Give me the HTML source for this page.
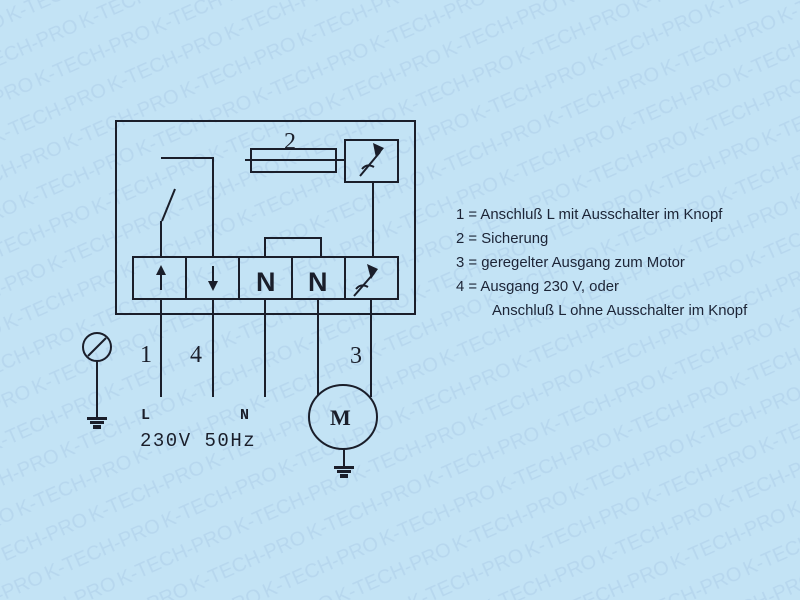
<!DOCTYPE html>
<html><head><meta charset="utf-8"><style>
html,body{margin:0;padding:0;background:#c3e3f5;width:800px;height:600px;overflow:hidden;}
svg{display:block;overflow:hidden}
</style></head><body>
<svg width="800" height="600" viewBox="0 0 800 600" xmlns="http://www.w3.org/2000/svg">
<defs>
<pattern id="wm" width="128" height="70" patternUnits="userSpaceOnUse" patternTransform="rotate(-24)">
<g fill="#b7d7ee" font-family="Liberation Sans, sans-serif" font-size="20">
<text x="0" y="25">K-TECH-PRO</text>
<text x="-64" y="60">K-TECH-PRO</text>
<text x="64" y="60">K-TECH-PRO</text>
</g>
</pattern>
</defs>
<rect width="800" height="600" fill="#c3e3f5"/>
<rect width="800" height="600" fill="url(#wm)"/>

<g stroke="#1a1e2a" stroke-width="2" fill="none">
<rect x="116" y="121" width="299" height="193"/>
<polyline points="161,257 161,221"/>
<line x1="162" y1="221" x2="175" y2="189"/>
<polyline points="161,158 213,158 213,257"/>
<rect x="251" y="149" width="85" height="23"/>
<line x1="245" y1="160" x2="345" y2="160"/>
<rect x="345" y="140" width="53" height="42"/>
<line x1="373" y1="182" x2="373" y2="257"/>
<polyline points="265,257 265,238 321,238 321,257"/>
<rect x="133" y="257" width="265" height="42"/>
<line x1="186" y1="257" x2="186" y2="299"/>
<line x1="239" y1="257" x2="239" y2="299"/>
<line x1="292" y1="257" x2="292" y2="299"/>
<line x1="345" y1="257" x2="345" y2="299"/>
<line x1="161" y1="299" x2="161" y2="397"/>
<line x1="213" y1="299" x2="213" y2="397"/>
<line x1="265" y1="299" x2="265" y2="397"/>
<line x1="318" y1="299" x2="318" y2="395"/>
<line x1="371" y1="299" x2="371" y2="397"/>
<ellipse cx="343" cy="417" rx="34" ry="32"/>
<line x1="344" y1="449" x2="344" y2="466"/>
<circle cx="97" cy="347" r="14"/>
<line x1="88" y1="356" x2="106" y2="338"/>
<line x1="97" y1="361" x2="97" y2="417"/>
<line x1="360" y1="176" x2="380" y2="152"/>
<path d="M362,169 q5,-6 12,-2" />
<line x1="354" y1="296" x2="374" y2="273"/>
<path d="M356,289 q5,-6 12,-2"/>
<line x1="161" y1="290" x2="161" y2="272"/>
<line x1="213" y1="266" x2="213" y2="284"/>
</g>
<g fill="#1a1e2a">
<polygon points="373,143 384,148 376,158"/>
<polygon points="367,264 378,269 371,279"/>
<polygon points="156,275 166,275 161,265"/>
<polygon points="208,281 218,281 213,291"/>
<rect x="87" y="417" width="20" height="3"/>
<rect x="90" y="421" width="14" height="3"/>
<rect x="93" y="425" width="8" height="4"/>
<rect x="334" y="466" width="20" height="3"/>
<rect x="337" y="470" width="14" height="3"/>
<rect x="340" y="474" width="8" height="4"/>
</g>
<g font-family="Liberation Sans, sans-serif" font-weight="bold" font-size="27" fill="#1a1e2a">
<text x="256" y="291">N</text><text x="308" y="291">N</text>
</g>
<g font-family="Liberation Serif, serif" font-size="24" fill="#1a1e2a">
<text x="284" y="149">2</text>
<text x="140" y="362">1</text>
<text x="190" y="362">4</text>
<text x="350" y="363">3</text>
<text x="330" y="425" font-size="22" font-weight="bold">M</text>
</g>
<g font-family="Liberation Mono, monospace" fill="#1a1e2a">
<text x="141" y="419" font-size="15" font-weight="bold">L</text>
<text x="240" y="419" font-size="15" font-weight="bold">N</text>
<text x="140" y="446" font-size="19" letter-spacing="1.5">230V 50Hz</text>
</g>
<g font-family="Liberation Sans, sans-serif" font-size="14.9" fill="#1c2436">
<text x="456" y="219">1 = Anschluß L mit Ausschalter im Knopf</text>
<text x="456" y="243">2 = Sicherung</text>
<text x="456" y="267">3 = geregelter Ausgang zum Motor</text>
<text x="456" y="291">4 = Ausgang 230 V, oder</text>
<text x="492" y="315">Anschluß L ohne Ausschalter im Knopf</text>
</g>
</svg>
</body></html>
